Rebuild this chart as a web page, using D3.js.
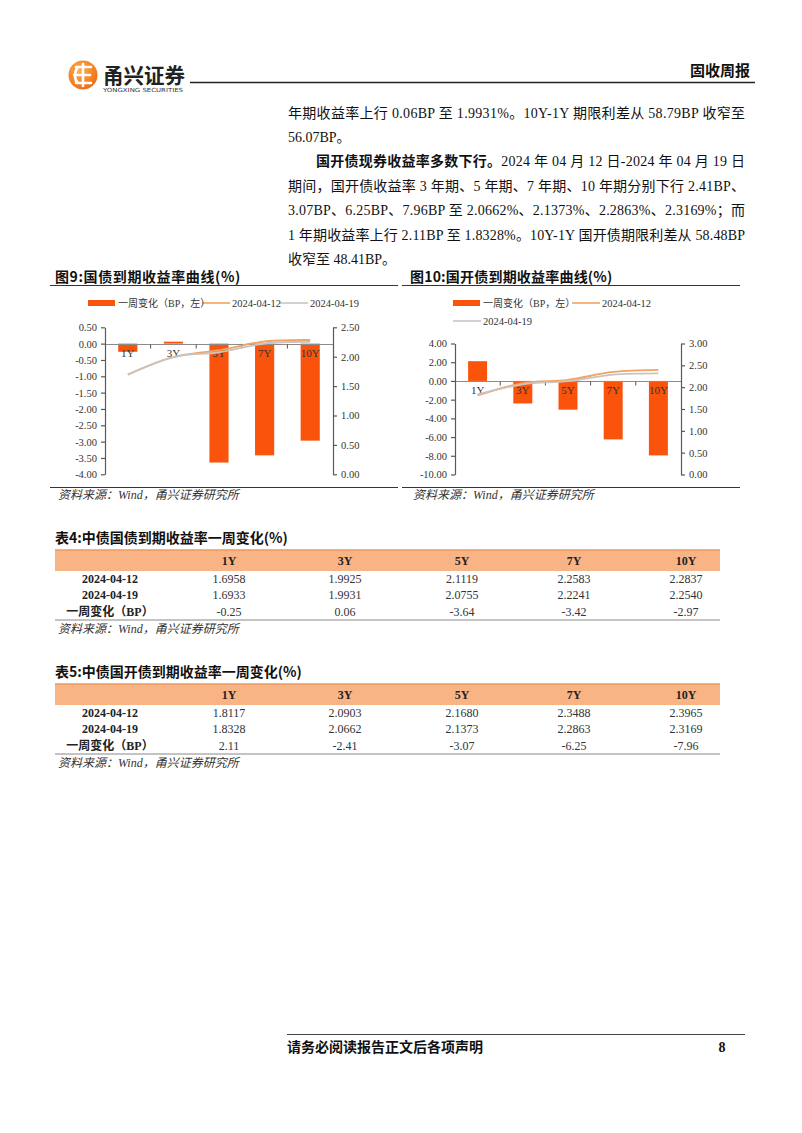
<!DOCTYPE html>
<html><head><meta charset="utf-8">
<script src="https://cdn.jsdelivr.net/npm/d3@7"></script>
<style>body{margin:0;background:#fff}svg{display:block}</style>
</head><body>
<script>
// ---------- data ----------
const tenors = ["1Y","3Y","5Y","7Y","10Y"];
const govY0412 = [1.6958,1.9925,2.1119,2.2583,2.2837];
const govY0419 = [1.6933,1.9931,2.0755,2.2241,2.2540];
const govChg   = [-0.25,0.06,-3.64,-3.42,-2.97];
const cdbY0412 = [1.8117,2.0903,2.1680,2.3488,2.3965];
const cdbY0419 = [1.8328,2.0662,2.1373,2.2863,2.3169];
const cdbChg   = [2.11,-2.41,-3.07,-6.25,-7.96];
const govLeftTicks  = [0.5,0,-0.5,-1,-1.5,-2,-2.5,-3,-3.5,-4];
const govRightTicks = [0,0.5,1,1.5,2,2.5];
const cdbLeftTicks  = [4,2,0,-2,-4,-6,-8,-10];
const cdbRightTicks = [0,0.5,1,1.5,2,2.5,3];
const seriesNames = ["一周变化（BP，左）","2024-04-12","2024-04-19"];
const rowLabels = ["2024-04-12","2024-04-19","一周变化（BP）"];

const W = 802, H = 1133;
const SERIF = "'Liberation Serif','Noto Sans CJK SC',serif";
const CJK = "'Noto Sans CJK SC','Liberation Serif',sans-serif";
const BAR = "#FA540C", L12 = "#F2A263", L19 = "#C9C4C0", AX = "#595959";

const svg = d3.select("body").append("svg").attr("width", W).attr("height", H)
  .style("font-family", SERIF);

// ---------- page header ----------
const logo = svg.append("g");
const grad = svg.append("defs").append("radialGradient").attr("id","lg").attr("cx","40%").attr("cy","35%").attr("r","70%");
grad.append("stop").attr("offset","0%").attr("stop-color","#FFB04A");
grad.append("stop").attr("offset","100%").attr("stop-color","#EE6A14");
logo.append("circle").attr("cx",83).attr("cy",75).attr("r",14.5).attr("fill","url(#lg)");
logo.append("path").attr("d","M76 67 H91 M74 75 H90 M76 83 H91 M83 64 V86 M78 67 C74 72 74 80 78 83")
  .attr("stroke","#fff").attr("stroke-width",2.6).attr("fill","none").attr("stroke-linecap","round");
svg.append("text").attr("x",103).attr("y",83).attr("font-family",CJK).attr("font-weight","bold")
  .attr("font-size",21).attr("fill","#222").attr("textLength",82).attr("lengthAdjust","spacingAndGlyphs").text("甬兴证券");
svg.append("text").attr("x",103).attr("y",92).attr("font-family","'DejaVu Sans',sans-serif")
  .attr("font-size",5.6).attr("fill","#333").attr("textLength",80).attr("lengthAdjust","spacingAndGlyphs").text("YONGXING SECURITIES");
svg.append("line").attr("x1",190).attr("x2",755).attr("y1",82.5).attr("y2",82.5).attr("stroke","#222").attr("stroke-width",1.6);
svg.append("text").attr("x",750).attr("y",76).attr("text-anchor","end").attr("font-family",CJK)
  .attr("font-weight","bold").attr("font-size",15).attr("fill","#111").text("固收周报");

// ---------- paragraph ----------
const para = [
  {x:288, y:118, just:true, parts:[{t:"年期收益率上行 0.06BP 至 1.9931%。10Y-1Y 期限利差从 58.79BP 收窄至"}]},
  {x:288, y:142, just:false, parts:[{t:"56.07BP。"}]},
  {x:316, y:166, just:true, parts:[{t:"国开债现券收益率多数下行。", b:true},{t:"2024 年 04 月 12 日-2024 年 04 月 19 日"}]},
  {x:288, y:191, just:true, parts:[{t:"期间，国开债收益率 3 年期、5 年期、7 年期、10 年期分别下行 2.41BP、"}]},
  {x:288, y:215, just:true, parts:[{t:"3.07BP、6.25BP、7.96BP 至 2.0662%、2.1373%、2.2863%、2.3169%；而"}]},
  {x:288, y:240, just:true, parts:[{t:"1 年期收益率上行 2.11BP 至 1.8328%。10Y-1Y 国开债期限利差从 58.48BP"}]},
  {x:288, y:264, just:false, parts:[{t:"收窄至 48.41BP。"}]}
];
para.forEach(p => {
  const t = svg.append("text").attr("x",p.x).attr("y",p.y).attr("font-size",14).attr("fill","#111");
  if (p.just) t.attr("textLength",745-p.x).attr("lengthAdjust","spacing");
  p.parts.forEach(q => t.append("tspan").attr("font-weight", q.b ? "bold" : "normal").text(q.t));
});

// ---------- charts ----------
function drawChart(cfg, chg, y12, y19, lTicks, rTicks) {
  const g = svg.append("g");
  g.append("text").attr("x",cfg.tx).attr("y",282).attr("font-size",14).attr("font-weight","bold")
    .attr("font-family",CJK).attr("fill","#111").attr("letter-spacing",cfg.ls).text(cfg.title);
  g.append("line").attr("x1",cfg.r0).attr("x2",cfg.r1).attr("y1",285.5).attr("y2",285.5).attr("stroke","#333").attr("stroke-width",1);
  g.append("line").attr("x1",cfg.r0).attr("x2",cfg.r1).attr("y1",487.5).attr("y2",487.5).attr("stroke","#333").attr("stroke-width",1);
  g.append("text").attr("x",cfg.tx+3).attr("y",499).attr("font-size",12).attr("font-style","italic")
    .attr("fill","#333").text("资料来源：Wind，甬兴证券研究所");

  // legend
  const lg = cfg.legend;
  g.append("rect").attr("x",lg[0].x).attr("y",lg[0].y-3).attr("width",27).attr("height",6).attr("fill",BAR);
  [L12, L19].forEach((c,i) => {
    g.append("line").attr("x1",lg[i+1].x).attr("x2",lg[i+1].x+28).attr("y1",lg[i+1].y).attr("y2",lg[i+1].y)
      .attr("stroke",c).attr("stroke-width",1.6);
  });
  seriesNames.forEach((s,i) => {
    g.append("text").attr("x",lg[i].x+30).attr("y",lg[i].y+3.5).attr("font-size",i===0?10:10.5)
      .attr("fill","#333").text(s);
  });

  const x = d3.scaleBand().domain(tenors).range([cfg.xl, cfg.xr]).paddingInner(0.58).paddingOuter(0.29);
  const yL = d3.scaleLinear().domain(d3.extent(lTicks)).range([cfg.yb, cfg.yt]);
  const yR = d3.scaleLinear().domain(d3.extent(rTicks)).range([cfg.yb, cfg.yt]);

  g.selectAll(".bar").data(chg).join("rect")
    .attr("x",(d,i)=>x(tenors[i])).attr("width",x.bandwidth())
    .attr("y",d=>Math.min(yL(d),yL(0))).attr("height",d=>Math.abs(yL(d)-yL(0)))
    .attr("fill",BAR);

  // zero line with boundary ticks
  const y0 = Math.round(yL(0))+0.5;
  g.append("line").attr("x1",cfg.xl).attr("x2",cfg.xr).attr("y1",y0).attr("y2",y0).attr("stroke","#8c8c8c").attr("stroke-width",1);
  d3.range(1,tenors.length).forEach(i => {
    const bx = cfg.xl + i*x.step();
    g.append("line").attr("x1",bx).attr("x2",bx).attr("y1",y0).attr("y2",y0+4).attr("stroke","#555");
  });
  const xa = g.append("g").attr("transform",`translate(0,${y0})`)
    .call(d3.axisBottom(x).tickSize(0).tickPadding(5));
  xa.select(".domain").remove();
  xa.selectAll("text").attr("font-size",11).attr("font-family",SERIF).attr("fill","#333");

  const la = g.append("g").attr("transform",`translate(${cfg.xl},0)`)
    .call(d3.axisLeft(yL).tickValues(lTicks).tickSize(4).tickSizeOuter(0).tickPadding(4).tickFormat(d=>d.toFixed(2)));
  const ra = g.append("g").attr("transform",`translate(${cfg.xr},0)`)
    .call(d3.axisRight(yR).tickValues(rTicks).tickSize(4).tickSizeOuter(0).tickPadding(4).tickFormat(d=>d.toFixed(2)));
  [la, ra].forEach(a => {
    a.selectAll("path,line").attr("stroke",AX).attr("stroke-width",1.2);
    a.selectAll("text").attr("font-size",10.5).attr("font-family",SERIF).attr("fill","#333");
  });

  const line = d3.line().x((d,i)=>x(tenors[i])+x.bandwidth()/2).y(d=>yR(d)).curve(d3.curveCatmullRom.alpha(0.5));
  g.append("path").attr("d",line(y12)).attr("fill","none").attr("stroke",L12).attr("stroke-width",1.8);
  g.append("path").attr("d",line(y19)).attr("fill","none").attr("stroke",L19).attr("stroke-width",1.8);
}

drawChart({title:"图9:国债到期收益率曲线(%)", tx:55, ls:0.6, r0:50, r1:398, xl:105, xr:333, yt:327.3, yb:474.3,
  legend:[{x:88,y:303},{x:202,y:303},{x:280,y:303}]},
  govChg, govY0412, govY0419, govLeftTicks, govRightTicks);
drawChart({title:"图10:国开债到期收益率曲线(%)", tx:410, ls:0.2, r0:402, r1:740, xl:455, xr:681, yt:343.5, yb:474.5,
  legend:[{x:453,y:303},{x:572,y:303},{x:453,y:321}]},
  cdbChg, cdbY0412, cdbY0419, cdbLeftTicks, cdbRightTicks);

// ---------- tables ----------
const colX = [110, 229, 345, 462, 574, 686];
function drawTable(cfg, r12, r19, chg) {
  const g = svg.append("g");
  g.append("text").attr("x",55).attr("y",cfg.ty).attr("font-family",CJK).attr("font-weight","bold")
    .attr("font-size",14).attr("fill","#111").text(cfg.title);
  g.append("rect").attr("x",55).attr("y",cfg.hy).attr("width",665).attr("height",21.5).attr("fill","#F9B486");
  g.append("line").attr("x1",55).attr("x2",720).attr("y1",cfg.hy+0.5).attr("y2",cfg.hy+0.5).attr("stroke","#E58A4E");
  tenors.forEach((t,i)=> g.append("text").attr("x",colX[i+1]).attr("y",cfg.hy+15).attr("text-anchor","middle")
    .attr("font-weight","bold").attr("font-size",12).attr("fill","#222").text(t));
  const rows = [r12.map(v=>v.toFixed(4)), r19.map(v=>v.toFixed(4)), chg.map(v=>v.toFixed(2))];
  rows.forEach((r,ri) => {
    const yy = cfg.hy + 33 + ri*16.5;
    g.append("text").attr("x",colX[0]).attr("y",yy).attr("text-anchor","middle").attr("font-weight","bold")
      .attr("font-size",12).attr("fill","#222").text(rowLabels[ri]);
    r.forEach((v,i)=> g.append("text").attr("x",colX[i+1]).attr("y",yy).attr("text-anchor","middle")
      .attr("font-size",12).attr("fill","#333").text(v));
  });
  g.append("line").attr("x1",55).attr("x2",720).attr("y1",cfg.hy+70.5).attr("y2",cfg.hy+70.5).attr("stroke","#888");
  g.append("text").attr("x",58).attr("y",cfg.hy+83).attr("font-size",12).attr("font-style","italic")
    .attr("fill","#333").text("资料来源：Wind，甬兴证券研究所");
}
drawTable({title:"表4:中债国债到期收益率一周变化(%)", ty:543, hy:549.5}, govY0412, govY0419, govChg);
drawTable({title:"表5:中债国开债到期收益率一周变化(%)", ty:677, hy:683.5}, cdbY0412, cdbY0419, cdbChg);

// ---------- footer ----------
svg.append("line").attr("x1",287).attr("x2",745).attr("y1",1034.5).attr("y2",1034.5).attr("stroke","#444").attr("stroke-width",1.2);
svg.append("text").attr("x",287).attr("y",1052).attr("font-family",CJK).attr("font-weight","bold")
  .attr("font-size",14).attr("fill","#111").text("请务必阅读报告正文后各项声明");
svg.append("text").attr("x",722).attr("y",1052).attr("text-anchor","middle").attr("font-weight","bold")
  .attr("font-size",14).attr("fill","#111").text("8");
</script>
</body></html>
